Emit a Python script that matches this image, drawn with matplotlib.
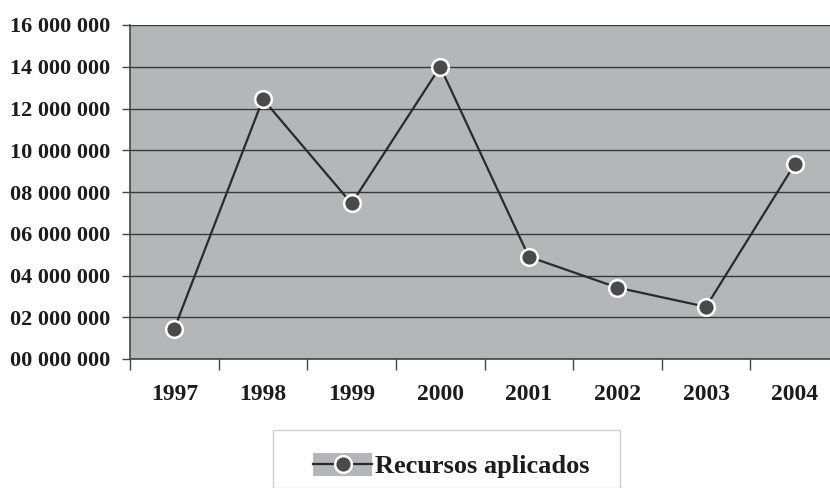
import matplotlib.pyplot as plt
from matplotlib.legend_handler import HandlerLine2D
from matplotlib.patches import Rectangle

# dados do grafico
anos = ['1997', '1998', '1999', '2000', '2001', '2002', '2003', '2004']
recursos = [1450000, 12450000, 7450000, 14000000, 4900000, 3420000, 2500000, 9330000]
y_ticks = [0, 2000000, 4000000, 6000000, 8000000, 10000000, 12000000, 14000000, 16000000]
y_labels = ['00 000 000', '02 000 000', '04 000 000', '06 000 000', '08 000 000',
            '10 000 000', '12 000 000', '14 000 000', '16 000 000']

plt.rcParams['font.family'] = ['Liberation Serif', 'DejaVu Serif']
plt.rcParams['font.weight'] = 'bold'

cor_fundo = '#b5b6ba'
cor_texto = '#1c1c1c'
cor_linha = '#2a2a2a'


class HandlerFundo(HandlerLine2D):
    # desenha um retangulo cinza atras do simbolo da legenda
    def create_artists(self, legend, orig_handle, xdescent, ydescent,
                       width, height, fontsize, trans):
        fundo = Rectangle((-xdescent, -ydescent - 2), width, height + 3,
                          facecolor=cor_fundo, edgecolor='none', transform=trans)
        artistas = super().create_artists(legend, orig_handle, xdescent, ydescent,
                                          width, height, fontsize, trans)
        return [fundo] + list(artistas)


fig = plt.figure(figsize=(8.3, 4.88), dpi=100)
ax = fig.add_axes([130 / 830, 1 - 359 / 488, 709 / 830, 334 / 488])
ax.set_facecolor(cor_fundo)

x = list(range(len(anos)))
linha, = ax.plot(x, recursos, color=cor_linha, linewidth=1.6, marker='o',
                 markersize=12, markerfacecolor='#4a4a4a', markeredgecolor='white',
                 markeredgewidth=1.8, label='Recursos aplicados', zorder=3)

ax.set_xlim(-0.5, len(anos) - 0.5)
ax.set_ylim(0, 16000000)

ax.set_yticks(y_ticks)
ax.set_yticklabels(y_labels, fontsize=16, color=cor_texto)
ax.yaxis.grid(True, color='#3a3a3a', linewidth=1.0)
ax.set_axisbelow(True)
ax.tick_params(axis='y', length=6, width=1, color='#444444', pad=8)

ax.set_xticks([i + 0.5 for i in range(-1, len(anos))], minor=False)
ax.set_xticklabels([])
ax.set_xticks(x, minor=True)
ax.set_xticklabels(anos, minor=True, fontsize=17, color=cor_texto)
ax.tick_params(axis='x', which='major', length=8, width=1, color='#444444', direction='out')
ax.tick_params(axis='x', which='minor', length=0, pad=18)

for lado in ['top', 'right']:
    ax.spines[lado].set_visible(False)
ax.spines['left'].set_color('#444444')
ax.spines['bottom'].set_color('#444444')
ax.spines['left'].set_linewidth(1.2)
ax.spines['bottom'].set_linewidth(1.2)

# moldura da legenda
fig.patches.append(Rectangle((273 / 830, 0), 347 / 830, (488 - 430) / 488,
                             transform=fig.transFigure, facecolor='white',
                             edgecolor='#d0d0d0', linewidth=1.0, zorder=0))

leg = fig.legend(handles=[linha], loc='center left', bbox_to_anchor=(313 / 830, 1 - 466 / 488),
                 fontsize=19, frameon=False, handlelength=2.25,
                 handletextpad=0.1, borderpad=0, borderaxespad=0,
                 handler_map={linha: HandlerFundo()})
for t in leg.get_texts():
    t.set_color(cor_texto)

plt.savefig('out.png', dpi=100)
